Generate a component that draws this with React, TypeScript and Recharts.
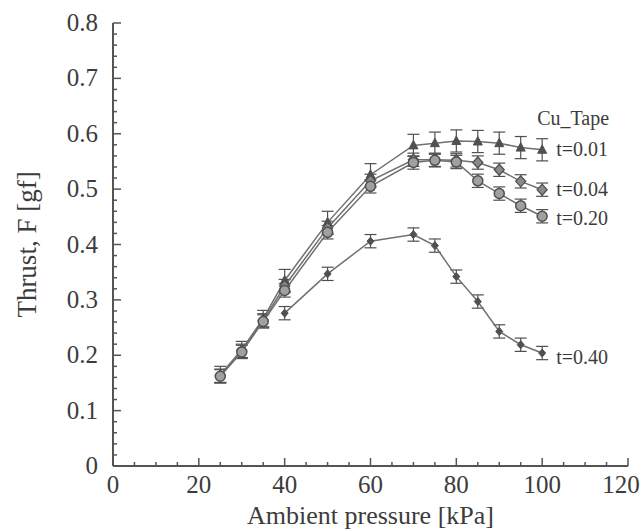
import React from 'react';
import { LineChart, Line, XAxis, YAxis, ErrorBar } from 'recharts';

// Ambient pressure [kPa]
const pressure = [25, 30, 35, 40, 50, 60, 70, 75, 80, 85, 90, 95, 100];

// Thrust F [gf] per tape thickness
const thrustT001 = [0.165, 0.21, 0.266, 0.335, 0.44, 0.526, 0.579, 0.583, 0.587, 0.586, 0.583, 0.575, 0.571];
const thrustT004 = [0.163, 0.208, 0.263, 0.325, 0.43, 0.515, 0.553, 0.553, 0.552, 0.548, 0.535, 0.514, 0.499];
const thrustT020 = [0.162, 0.206, 0.261, 0.317, 0.422, 0.505, 0.548, 0.552, 0.549, 0.515, 0.492, 0.47, 0.451];
const thrustT040 = [null, null, null, 0.276, 0.347, 0.406, 0.418, 0.398, 0.342, 0.297, 0.243, 0.219, 0.204];

const errT001 = [0.015, 0.015, 0.015, 0.02, 0.02, 0.02, 0.02, 0.02, 0.02, 0.02, 0.02, 0.02, 0.02];
const errT004 = [0.012, 0.012, 0.012, 0.012, 0.012, 0.012, 0.012, 0.012, 0.012, 0.012, 0.012, 0.012, 0.012];
const errT020 = [0.012, 0.012, 0.012, 0.012, 0.012, 0.012, 0.012, 0.012, 0.012, 0.012, 0.012, 0.012, 0.012];
const errT040 = [null, null, null, 0.012, 0.012, 0.012, 0.012, 0.012, 0.012, 0.012, 0.012, 0.012, 0.012];

const seriesNames = ['t=0.01', 't=0.04', 't=0.20', 't=0.40'];
const legendTitle = 'Cu_Tape';

const xTicks = [0, 5, 10, 15, 20, 25, 30, 35, 40, 45, 50, 55, 60, 65, 70, 75, 80, 85, 90, 95, 100, 105, 110, 115, 120];
const yTicks = [
  0, 0.02, 0.04, 0.06, 0.08, 0.1, 0.12, 0.14, 0.16, 0.18, 0.2, 0.22, 0.24, 0.26, 0.28, 0.3,
  0.32, 0.34, 0.36, 0.38, 0.4, 0.42, 0.44, 0.46, 0.48, 0.5, 0.52, 0.54, 0.56, 0.58, 0.6,
  0.62, 0.64, 0.66, 0.68, 0.7, 0.72, 0.74, 0.76, 0.78, 0.8,
];

const data = pressure.map((p, i) => ({
  p,
  a: thrustT001[i],
  b: thrustT004[i],
  c: thrustT020[i],
  d: thrustT040[i],
  ea: errT001[i],
  eb: errT004[i],
  ec: errT020[i],
  ed: errT040[i],
}));

const FONT = '"Liberation Serif", "Times New Roman", serif';
const FRAME = '#555';
const LINE = '#707070';
const MARK = '#505050';
const TEXT = '#3c3c3c';

type Side = 'bottom' | 'top' | 'left' | 'right';

const makeTick = (side: Side, withLabel: boolean) => (props: any) => {
  const { x, y, payload } = props;
  const v = payload.value as number;
  const horizontal = side === 'bottom' || side === 'top';
  const major = horizontal ? v % 20 === 0 : Math.abs(v * 10 - Math.round(v * 10)) < 1e-6;
  const len = major ? 8 : 4;
  let line;
  if (side === 'bottom') line = <line x1={x} y1={y} x2={x} y2={y - len} />;
  else if (side === 'top') line = <line x1={x} y1={y} x2={x} y2={y + len} />;
  else if (side === 'left') line = <line x1={x} y1={y} x2={x + len} y2={y} />;
  else line = <line x1={x} y1={y} x2={x - len} y2={y} />;
  let label = null;
  if (withLabel && major) {
    if (side === 'bottom') {
      // last label sits a little left so it stays inside the picture
      const lx = v === 120 ? x - 7 : x;
      label = (
        <text x={lx} y={y + 27} textAnchor="middle" fontSize={25} fontFamily={FONT} fill={TEXT} stroke="none">
          {v}
        </text>
      );
    } else if (side === 'left') {
      label = (
        <text x={x - 15} y={y + 8} textAnchor="end" fontSize={25} fontFamily={FONT} fill={TEXT} stroke="none">
          {v === 0 ? '0' : v.toFixed(1)}
        </text>
      );
    }
  }
  return (
    <g stroke={FRAME} strokeWidth={1.5}>
      {line}
      {label}
    </g>
  );
};

const makeDot = (shape: 'tri' | 'dia' | 'circ' | 'small') => (props: any) => {
  const { cx, cy, index } = props;
  if (cx == null || cy == null || Number.isNaN(cy)) return <g key={`n-${index}`} />;
  if (shape === 'tri') {
    return (
      <path
        key={`t-${index}`}
        d={`M${cx},${cy - 5} L${cx + 4.5},${cy + 3.5} L${cx - 4.5},${cy + 3.5} Z`}
        fill={MARK}
        stroke={MARK}
        strokeWidth={1}
      />
    );
  }
  if (shape === 'dia') {
    return (
      <path
        key={`d-${index}`}
        d={`M${cx},${cy - 5.5} L${cx + 5},${cy} L${cx},${cy + 5.5} L${cx - 5},${cy} Z`}
        fill="#8a8a8a"
        stroke={MARK}
        strokeWidth={1.3}
      />
    );
  }
  if (shape === 'circ') {
    return <circle key={`c-${index}`} cx={cx} cy={cy} r={5} fill="#a0a0a0" stroke={MARK} strokeWidth={1.5} />;
  }
  return (
    <path
      key={`s-${index}`}
      d={`M${cx},${cy - 4} L${cx + 3.5},${cy} L${cx},${cy + 4} L${cx - 3.5},${cy} Z`}
      fill={MARK}
      stroke={MARK}
      strokeWidth={1}
    />
  );
};

const makeEndLabel = (name: string, dy: number, withTitle: boolean) => (props: any) => {
  const { x, y, index } = props;
  if (index !== pressure.length - 1 || y == null) return null;
  return (
    <g key={`l-${name}`}>
      {withTitle && (
        <text x={x - 5} y={y - 25} fontSize={20} fontFamily={FONT} fill={TEXT}>
          {legendTitle}
        </text>
      )}
      <text x={x + 14} y={y + 6 + dy} fontSize={20} fontFamily={FONT} fill={TEXT}>
        {name}
      </text>
    </g>
  );
};

export default function App() {
  return (
    <div style={{ width: 644, height: 531 }}>
      <style>{`body{margin:0;background:#fff}`}</style>
      <LineChart width={644} height={531} data={data} margin={{ top: 23, right: 16, left: 0, bottom: 0 }}>
        <XAxis
          dataKey="p"
          type="number"
          domain={[0, 120]}
          ticks={xTicks}
          interval={0}
          tickSize={0}
          tickMargin={0}
          height={65}
          axisLine={{ stroke: FRAME, strokeWidth: 2 }}
          tickLine={false}
          tick={makeTick('bottom', true)}
          label={{
            value: 'Ambient pressure [kPa]',
            position: 'insideBottom',
            offset: 7,
            fontSize: 26,
            fontFamily: FONT,
            fill: TEXT,
          }}
        />
        <XAxis
          xAxisId="top"
          dataKey="p"
          type="number"
          orientation="top"
          domain={[0, 120]}
          ticks={xTicks}
          interval={0}
          tickSize={0}
          tickMargin={0}
          height={0}
          axisLine={{ stroke: FRAME, strokeWidth: 2 }}
          tickLine={false}
          tick={makeTick('top', false)}
        />
        <YAxis
          type="number"
          domain={[0, 0.8]}
          ticks={yTicks}
          interval={0}
          tickSize={0}
          tickMargin={0}
          width={113}
          axisLine={{ stroke: FRAME, strokeWidth: 2 }}
          tickLine={false}
          tick={makeTick('left', true)}
          allowDataOverflow
          label={{
            value: 'Thrust, F [gf]',
            angle: -90,
            position: 'insideLeft',
            offset: 26,
            style: { textAnchor: 'middle' },
            fontSize: 27,
            fontFamily: FONT,
            fill: TEXT,
          }}
        />
        <YAxis
          yAxisId="right"
          orientation="right"
          type="number"
          domain={[0, 0.8]}
          ticks={yTicks}
          interval={0}
          tickSize={0}
          tickMargin={0}
          width={0}
          axisLine={{ stroke: FRAME, strokeWidth: 2 }}
          tickLine={false}
          tick={makeTick('right', false)}
        />
        <Line
          dataKey="a"
          stroke={LINE}
          strokeWidth={1.5}
          dot={makeDot('tri')}
          label={makeEndLabel(seriesNames[0], 0, true)}
          isAnimationActive={false}
        >
          <ErrorBar dataKey="ea" width={6} stroke={MARK} strokeWidth={1.2} direction="y" />
        </Line>
        <Line
          dataKey="b"
          stroke={LINE}
          strokeWidth={1.5}
          dot={makeDot('dia')}
          label={makeEndLabel(seriesNames[1], 0, false)}
          isAnimationActive={false}
        >
          <ErrorBar dataKey="eb" width={6} stroke={MARK} strokeWidth={1.2} direction="y" />
        </Line>
        <Line
          dataKey="c"
          stroke={LINE}
          strokeWidth={1.5}
          dot={makeDot('circ')}
          label={makeEndLabel(seriesNames[2], 3, false)}
          isAnimationActive={false}
        >
          <ErrorBar dataKey="ec" width={6} stroke={MARK} strokeWidth={1.2} direction="y" />
        </Line>
        <Line
          dataKey="d"
          stroke={LINE}
          strokeWidth={1.5}
          dot={makeDot('small')}
          label={makeEndLabel(seriesNames[3], 5, false)}
          isAnimationActive={false}
        >
          <ErrorBar dataKey="ed" width={6} stroke={MARK} strokeWidth={1.2} direction="y" />
        </Line>
      </LineChart>
    </div>
  );
}
